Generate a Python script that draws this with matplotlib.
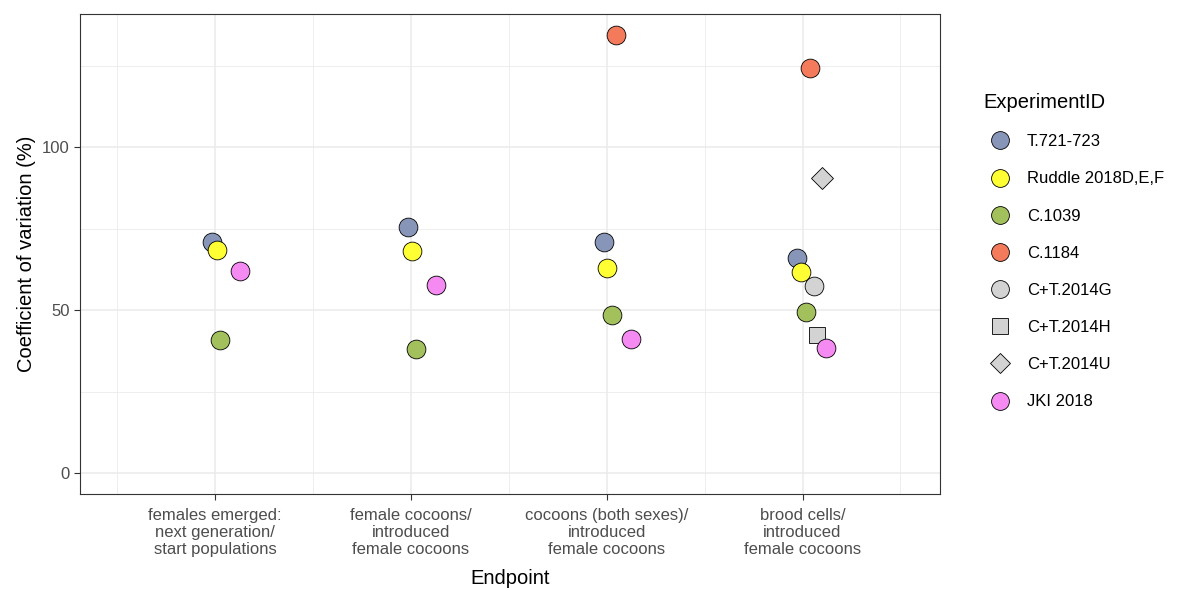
import matplotlib.pyplot as plt
from matplotlib.lines import Line2D

plt.rcParams['font.family'] = ['Liberation Sans', 'DejaVu Sans']

categories = ["females emerged:\nnext generation/\nstart populations",
              "female cocoons/\nintroduced\nfemale cocoons",
              "cocoons (both sexes)/\nintroduced\nfemale cocoons",
              "brood cells/\nintroduced\nfemale cocoons"]

# (experiment, jittered x, cv)
points = [
    ("T.721-723", 0.985, 70.9), ("Ruddle 2018D,E,F", 1.01, 68.4), ("C.1039", 1.026, 40.8), ("JKI 2018", 1.128, 62.0),
    ("T.721-723", 1.985, 75.5), ("Ruddle 2018D,E,F", 2.005, 68.1), ("C.1039", 2.026, 38.0), ("JKI 2018", 2.128, 57.7),
    ("C.1184", 3.046, 134.4), ("T.721-723", 2.985, 70.9), ("Ruddle 2018D,E,F", 3.0, 62.9), ("C.1039", 3.026, 48.5),
    ("JKI 2018", 3.122, 41.1),
    ("C.1184", 4.04, 124.2), ("C+T.2014U", 4.10, 90.5), ("T.721-723", 3.974, 66.0), ("Ruddle 2018D,E,F", 3.99, 61.7),
    ("C+T.2014G", 4.06, 57.4), ("C.1039", 4.02, 49.4), ("C+T.2014H", 4.076, 42.3), ("JKI 2018", 4.12, 38.3),
]

experiments = ["T.721-723", "Ruddle 2018D,E,F", "C.1039", "C.1184", "C+T.2014G", "C+T.2014H", "C+T.2014U", "JKI 2018"]
colors = {"T.721-723": "#8796B8", "Ruddle 2018D,E,F": "#FFFF33", "C.1039": "#A2C05C", "C.1184": "#F47A5C",
          "C+T.2014G": "#D3D3D3", "C+T.2014H": "#D3D3D3", "C+T.2014U": "#D3D3D3", "JKI 2018": "#F58AF2"}
markers = {e: "o" for e in experiments}
markers["C+T.2014H"] = "s"
markers["C+T.2014U"] = "D"
sizes = {"o": 13.5, "s": 12, "D": 11}

fig = plt.figure(figsize=(11.84, 5.91), dpi=100)
ax = fig.add_axes([0.0676, 0.164, 0.726, 0.812])

for x in [1, 2, 3, 4]:
    ax.axvline(x, color="#EBEBEB", lw=1.1, zorder=0)
for x in [0.5, 1.5, 2.5, 3.5, 4.5]:
    ax.axvline(x, color="#EBEBEB", lw=0.6, zorder=0)
for y in [0, 50, 100]:
    ax.axhline(y, color="#EBEBEB", lw=1.1, zorder=0)
for y in [25, 75, 125]:
    ax.axhline(y, color="#EBEBEB", lw=0.6, zorder=0)

for exp, x, y in points:
    m = markers[exp]
    ax.plot(x, y, marker=m, ms=sizes[m], mfc=colors[exp], mec="black", mew=0.6, ls="none", zorder=3)

ax.set_xlim(0.311, 4.70)
ax.set_ylim(-6.4, 140.8)
ax.set_xticks([1, 2, 3, 4])
ax.set_xticklabels(categories, fontsize=12, color="#4D4D4D", linespacing=1.15)
ax.set_yticks([0, 50, 100])
ax.set_yticklabels(["0", "50", "100"], fontsize=12, color="#4D4D4D")
ax.tick_params(color="#333333", length=4)
ax.tick_params(axis="x", pad=6)
for s in ax.spines.values():
    s.set_color("#333333")
ax.set_xlabel("Endpoint", fontsize=14.5, labelpad=9)
ax.set_ylabel("Coefficient of variation (%)", fontsize=14.5)

handles = [Line2D([], [], marker=markers[e], ms=sizes[markers[e]] * 0.95, mfc=colors[e], mec="black", mew=0.6,
                  ls="none", label=e) for e in experiments]
fig.legend(handles=handles, title="ExperimentID", loc="upper left", bbox_to_anchor=(0.818, 0.868),
           frameon=False, fontsize=12, title_fontsize=14.5, labelspacing=1.33, handletextpad=0.6,
           alignment="left")

fig.savefig("out.png", dpi=100)
